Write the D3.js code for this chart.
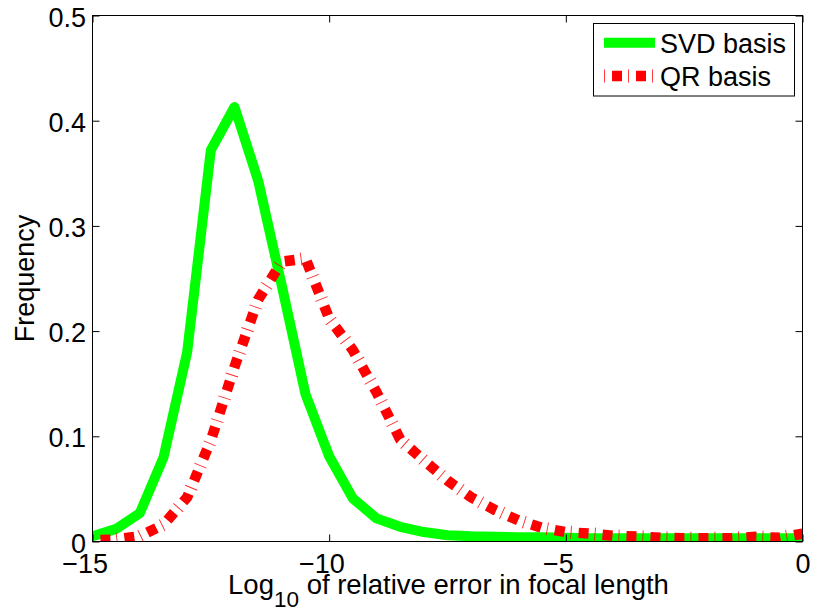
<!DOCTYPE html>
<html>
<head>
<meta charset="utf-8">
<script src="https://cdn.jsdelivr.net/npm/d3@7"></script>
<style>
  body { margin: 0; background: #ffffff; }
  text { font-family: "Liberation Sans", Arial, Helvetica, sans-serif; fill: #000; }
</style>
</head>
<body>
<svg id="chart" width="819" height="610"></svg>
<script>
// histogram bin centres (log10 of relative error)
const bins = [-15, -14.5, -14, -13.5, -13, -12.5, -12, -11.5, -11, -10.5, -10, -9.5, -9, -8.5, -8,
  -7.5, -7, -6.5, -6, -5.5, -5, -4.5, -4, -3.5, -3, -2.5, -2, -1.5, -1, -0.5, 0];

const svdFreq = [0.005, 0.012, 0.027, 0.080, 0.180, 0.372, 0.413, 0.343, 0.243, 0.140, 0.081, 0.041, 0.022, 0.014, 0.009,
  0.006, 0.005, 0.0045, 0.004, 0.004, 0.0035, 0.003, 0.003, 0.003, 0.003, 0.003, 0.003, 0.003, 0.003, 0.003, 0.003];

const qrFreq = [0.001, 0.002, 0.005, 0.016, 0.042, 0.096, 0.166, 0.230, 0.266, 0.269, 0.212, 0.182, 0.142, 0.097, 0.077,
  0.058, 0.042, 0.030, 0.020, 0.013, 0.009, 0.0075, 0.0055, 0.0047, 0.0036, 0.003, 0.003, 0.003, 0.0044, 0.0036, 0.0074];

const xTicks = [-15, -10, -5, 0];
const yTicks = [0, 0.1, 0.2, 0.3, 0.4, 0.5];
const seriesNames = ["SVD basis", "QR basis"];

const col = {
  svd: "#00ff00",
  qr: "#ff0000",
  axis: "#000000"
};

const box = { left: 92.5, right: 802.5, top: 15.5, bottom: 541.5 };
const fontSize = 27;

const svg = d3.select("#chart");

const x = d3.scaleLinear().domain([-15, 0]).range([box.left, box.right]);
const y = d3.scaleLinear().domain([0, 0.5]).range([box.bottom, box.top]);

svg.append("rect").attr("width", 819).attr("height", 610).attr("fill", "#fff");

svg.append("clipPath").attr("id", "plotclip")
  .append("rect")
  .attr("x", box.left).attr("y", box.top)
  .attr("width", box.right - box.left).attr("height", box.bottom - box.top);

const plot = svg.append("g").attr("clip-path", "url(#plotclip)");

const line = d3.line()
  .x(d => x(d[0]))
  .y(d => y(d[1]));

const svdPts = bins.map((b, i) => [b, svdFreq[i]]);
const qrPts = bins.map((b, i) => [b, qrFreq[i]]);

// green solid
plot.append("path")
  .attr("d", line(svdPts))
  .attr("fill", "none")
  .attr("stroke", col.svd)
  .attr("stroke-width", 10)
  .attr("stroke-linejoin", "round");

// red dash-dot: thick squares plus thin cross ticks
function qrStroke(g, d) {
  g.append("path")
    .attr("d", d)
    .attr("fill", "none")
    .attr("stroke", col.qr)
    .attr("stroke-width", 10.5)
    .attr("stroke-dasharray", "10 14")
    .attr("stroke-dashoffset", -8);
  g.append("path")
    .attr("d", d)
    .attr("fill", "none")
    .attr("stroke", col.qr)
    .attr("stroke-opacity", 0.85)
    .attr("stroke-width", 13)
    .attr("stroke-dasharray", "0.9 23.1");
}
qrStroke(plot, line(qrPts));

// axes (ticks inside, box on)
const xAxis = svg.append("g")
  .attr("transform", `translate(0,${box.bottom})`)
  .call(d3.axisBottom(x).tickValues(xTicks).tickSizeInner(-7).tickSizeOuter(0));
const yAxis = svg.append("g")
  .attr("transform", `translate(${box.left},0)`)
  .call(d3.axisLeft(y).tickValues(yTicks).tickSizeInner(-7).tickSizeOuter(0)
    .tickFormat(d => d === 0 ? "0" : d3.format(".1f")(d)));
svg.append("g")
  .attr("transform", `translate(0,${box.top})`)
  .call(d3.axisTop(x).tickValues(xTicks).tickSizeInner(-7).tickSizeOuter(0).tickFormat(""));
svg.append("g")
  .attr("transform", `translate(${box.right},0)`)
  .call(d3.axisRight(y).tickValues(yTicks).tickSizeInner(-7).tickSizeOuter(0).tickFormat(""));

svg.selectAll(".domain").remove();
svg.selectAll(".tick line").attr("stroke", col.axis).attr("stroke-width", 1);

svg.append("rect")
  .attr("x", box.left).attr("y", box.top)
  .attr("width", box.right - box.left).attr("height", box.bottom - box.top)
  .attr("fill", "none")
  .attr("stroke", col.axis)
  .attr("stroke-width", 1);

yAxis.selectAll(".tick text")
  .attr("font-size", fontSize)
  .attr("font-family", null)
  .attr("x", -6.5)
  .attr("y", 10.5)
  .attr("dy", null)
  .attr("fill", "#000");

// MATLAB centres the digits on the tick and lets the minus hang left
xAxis.selectAll(".tick text")
  .attr("font-size", fontSize)
  .attr("font-family", null)
  .attr("y", 31)
  .attr("dy", null)
  .attr("fill", "#000")
  .each(function(d) {
    const t = d3.select(this);
    const full = this.getComputedTextLength();
    const tmp = t.clone().text(String(Math.abs(d)));
    const digits = tmp.node().getComputedTextLength();
    tmp.remove();
    t.attr("x", -(full - digits) / 2);
  });
svg.selectAll(".tick").attr("font-family", null).attr("font-size", null);

// axis labels
const xl = svg.append("text")
  .attr("x", (box.left + box.right) / 2 + 1)
  .attr("y", 594)
  .attr("text-anchor", "middle")
  .attr("font-size", 27.5);
xl.append("tspan").text("Log");
xl.append("tspan").text("10").attr("font-size", 22.5).attr("dy", 12.5);
xl.append("tspan").text(" of relative error in focal length").attr("dy", -12.5);

svg.append("text")
  .attr("transform", `translate(33.5,${(box.top + box.bottom) / 2}) rotate(-90)`)
  .attr("text-anchor", "middle")
  .attr("font-size", fontSize)
  .text("Frequency");

// legend
const lg = svg.append("g");
lg.append("rect")
  .attr("x", 593.5).attr("y", 23.5)
  .attr("width", 201).attr("height", 72.5)
  .attr("fill", "#fff")
  .attr("stroke", col.axis)
  .attr("stroke-width", 1);

const legendRows = [42.7, 76];
lg.append("path")
  .attr("d", d3.line()([[604, legendRows[0]], [655, legendRows[0]]]))
  .attr("stroke", col.svd)
  .attr("stroke-width", 10);
qrStroke(lg, d3.line()([[604, legendRows[1]], [655, legendRows[1]]]));

seriesNames.forEach((name, i) => {
  lg.append("text")
    .attr("x", 660)
    .attr("y", legendRows[i] + 10.2)
    .attr("font-size", fontSize)
    .text(name);
});
</script>
</body>
</html>
